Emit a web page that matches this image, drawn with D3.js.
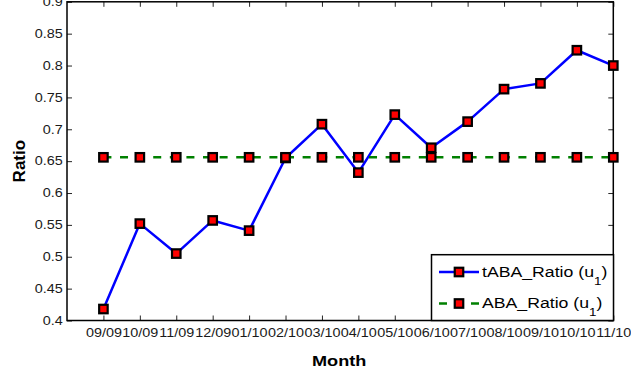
<!DOCTYPE html>
<html>
<head>
<meta charset="utf-8">
<script src="https://cdn.jsdelivr.net/npm/d3@7"></script>
<style>
  html, body { margin: 0; padding: 0; background: #fff; }
  svg { display: block; font-family: "Liberation Sans", Arial, Helvetica, sans-serif; }
</style>
</head>
<body>
<svg id="chart" width="631" height="374"></svg>
<script>
// Monthly ratios, Sep 2009 – Nov 2010
const months = ["09/09","10/09","11/09","12/09","01/10","02/10","03/10","04/10",
                "05/10","06/10","07/10","08/10","09/10","10/10","11/10"];
const tabaRatio = [0.418,0.552,0.505,0.557,0.541,0.655,0.708,0.632,
                   0.723,0.671,0.712,0.763,0.772,0.824,0.800];
const abaRatio  = [0.656,0.656,0.656,0.656,0.656,0.656,0.656,0.656,
                   0.656,0.656,0.656,0.656,0.656,0.656,0.656];
const yTicks = [0.4,0.45,0.5,0.55,0.6,0.65,0.7,0.75,0.8,0.85,0.9];
const yTickLabels = ["0.4","0.45","0.5","0.55","0.6","0.65","0.7","0.75","0.8","0.85","0.9"];
const seriesNames = ["tABA_Ratio", "ABA_Ratio"];

const plot = { left: 67, right: 613.3, top: 1.8, bottom: 320.5 };
const stretch = 1.2;   // wide glyph rendering of the labels

const svg = d3.select("#chart");

const x = d3.scaleLinear().domain([0, months.length]).range([plot.left, plot.right]);
const y = d3.scaleLinear().domain([0.4, 0.9]).range([plot.bottom, plot.top]);
const xIdx = months.map((m, i) => i + 1);

// ---- axes (ticks point inward on all four sides) ----
function styleTicks(g) {
  g.select(".domain").remove();
  g.selectAll(".tick line").attr("stroke", "#262626").attr("stroke-width", 1);
}

const xAxis = svg.append("g")
  .attr("transform", `translate(0,${plot.bottom})`)
  .call(d3.axisBottom(x).tickValues(xIdx).tickFormat((d, i) => months[i])
        .tickSizeInner(-5).tickSizeOuter(0).tickPadding(7.5))
  .call(styleTicks);
xAxis.selectAll(".tick text")
  .attr("font-size", 12).attr("fill", "#1a1a1a")
  .attr("font-family", "'Liberation Sans', Arial, sans-serif")
  .attr("transform", `scale(${stretch},1)`);

svg.append("g")
  .attr("transform", `translate(0,${plot.top})`)
  .call(d3.axisTop(x).tickValues(xIdx).tickFormat("").tickSizeInner(-5).tickSizeOuter(0))
  .call(styleTicks);

const yAxis = svg.append("g")
  .attr("transform", `translate(${plot.left},0)`)
  .call(d3.axisLeft(y).tickValues(yTicks).tickFormat((d, i) => yTickLabels[i])
        .tickSizeInner(-5).tickSizeOuter(0).tickPadding(3.5))
  .call(styleTicks);
yAxis.selectAll(".tick text")
  .attr("font-size", 12).attr("fill", "#1a1a1a")
  .attr("font-family", "'Liberation Sans', Arial, sans-serif")
  .attr("transform", `scale(${stretch},1)`);

svg.append("g")
  .attr("transform", `translate(${plot.right},0)`)
  .call(d3.axisRight(y).tickValues(yTicks).tickFormat("").tickSizeInner(-5).tickSizeOuter(0))
  .call(styleTicks);

// frame
svg.append("rect")
  .attr("x", plot.left).attr("y", plot.top)
  .attr("width", plot.right - plot.left).attr("height", plot.bottom - plot.top)
  .attr("fill", "none").attr("stroke", "#000").attr("stroke-width", 1.5);

// axis titles
svg.append("text")
  .attr("transform", `translate(${(plot.left + plot.right) / 2 - 1},366) scale(1.17,1)`)
  .attr("text-anchor", "middle").attr("font-size", 15.5).attr("font-weight", "bold")
  .attr("fill", "#000").text("Month");

svg.append("text")
  .attr("transform", `translate(24.5,${(plot.top + plot.bottom) / 2}) rotate(-90)`)
  .attr("text-anchor", "middle").attr("font-size", 17).attr("font-weight", "bold")
  .attr("fill", "#000").text("Ratio");

// ---- series ----
const line = d3.line().x((d, i) => x(i + 1)).y(d => y(d));
const markerSize = 8.5;

function drawMarkers(values) {
  svg.append("g").selectAll("rect").data(values).join("rect")
    .attr("x", (d, i) => x(i + 1) - markerSize / 2)
    .attr("y", d => y(d) - markerSize / 2)
    .attr("width", markerSize).attr("height", markerSize)
    .attr("fill", "#ff0000").attr("stroke", "#000").attr("stroke-width", 2.2);
}

svg.append("path").datum(tabaRatio).attr("d", line)
  .attr("fill", "none").attr("stroke", "#0000ff").attr("stroke-width", 2.5)
  .attr("stroke-linejoin", "round");
drawMarkers(tabaRatio);

svg.append("path").datum(abaRatio).attr("d", line)
  .attr("fill", "none").attr("stroke", "#008000").attr("stroke-width", 2.5)
  .attr("stroke-dasharray", "8,8.6");
drawMarkers(abaRatio);

// ---- legend ----
const legend = svg.append("g");
legend.append("rect")
  .attr("x", 431.5).attr("y", 254.7).attr("width", 182).attr("height", 65.8)
  .attr("fill", "#fff").attr("stroke", "#000").attr("stroke-width", 1.5);

const legendRows = [
  { name: seriesNames[0], color: "#0000ff", dash: null, cy: 272 },
  { name: seriesNames[1], color: "#008000", dash: "8,8", cy: 303.5 }
];
legendRows.forEach(r => {
  legend.append("line")
    .attr("x1", 439).attr("x2", 479).attr("y1", r.cy).attr("y2", r.cy)
    .attr("stroke", r.color).attr("stroke-width", 2.5)
    .attr("stroke-dasharray", r.dash);
  legend.append("rect")
    .attr("x", 459 - markerSize / 2).attr("y", r.cy - markerSize / 2)
    .attr("width", markerSize).attr("height", markerSize)
    .attr("fill", "#ff0000").attr("stroke", "#000").attr("stroke-width", 2.2);
  const t = legend.append("text")
    .attr("transform", `translate(482,${r.cy + 4.8}) scale(1.22,1)`)
    .attr("font-size", 14.5).attr("fill", "#000");
  t.append("tspan").text(r.name + " (u");
  t.append("tspan").attr("font-size", 11).attr("dy", 8).text("1");
  t.append("tspan").attr("dy", -8).text(")");
});
</script>
</body>
</html>
